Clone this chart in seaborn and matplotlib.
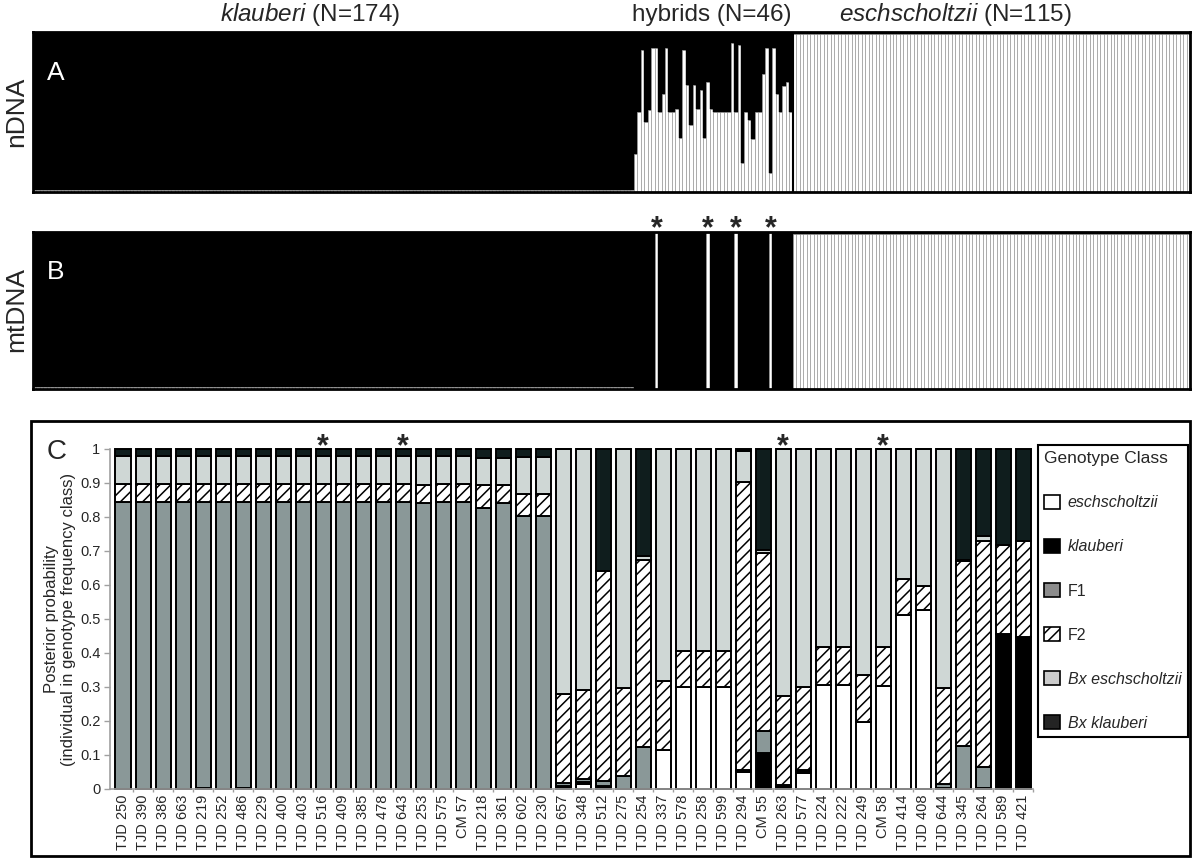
import numpy as np
import matplotlib
matplotlib.use("Agg")
import matplotlib.pyplot as plt
from matplotlib.patches import Patch, Rectangle
import seaborn as sns

# ---- panels A/B: admixture per individual (fraction eschscholtzii) ----
n_klauberi = 174
n_hybrids = 46
n_esch = 115

# pure groups look uniform in the picture
ndna_klauberi = [0.01] * n_klauberi
ndna_esch = [0.99] * n_esch
# hybrids, left to right
ndna_hybrids = [0.24, 0.50, 0.89, 0.44, 0.51, 0.90, 0.90, 0.50, 0.61, 0.90,
                0.50, 0.50, 0.52, 0.34, 0.89, 0.67, 0.42, 0.67, 0.52, 0.64,
                0.34, 0.69, 0.52, 0.50, 0.50, 0.50, 0.50, 0.50, 0.93, 0.50,
                0.92, 0.18, 0.50, 0.45, 0.33, 0.50, 0.50, 0.74, 0.90, 0.12,
                0.90, 0.61, 0.50, 0.66, 0.69, 0.50]

mt_klauberi = [0.01] * n_klauberi
mt_esch = [0.985] * n_esch
mt_hybrids = [0, 0, 0, 0, 0, 0, 1, 0, 0, 0,
              0, 0, 0, 0, 0, 0, 0, 0, 0, 0,
              0, 1, 0, 0, 0, 0, 0, 0, 0, 1,
              0, 0, 0, 0, 0, 0, 0, 0, 0, 1,
              0, 0, 0, 0, 0, 0]

# ---- panel C: NewHybrids posterior probabilities ----
individuals = ["TJD 250", "TJD 390", "TJD 386", "TJD 663", "TJD 219", "TJD 252",
               "TJD 486", "TJD 229", "TJD 400", "TJD 403", "TJD 516", "TJD 409",
               "TJD 385", "TJD 478", "TJD 643", "TJD 253", "TJD 575", "CM 57",
               "TJD 218", "TJD 361", "TJD 602", "TJD 230", "TJD 657", "TJD 348",
               "TJD 512", "TJD 275", "TJD 254", "TJD 337", "TJD 578", "TJD 258",
               "TJD 599", "TJD 294", "CM 55", "TJD 263", "TJD 577", "TJD 224",
               "TJD 222", "TJD 249", "CM 58", "TJD 414", "TJD 408", "TJD 644",
               "TJD 345", "TJD 264", "TJD 589", "TJD 421"]
p_esch = [0, 0, 0, 0, 0, 0, 0, 0, 0, 0, 0, 0, 0, 0, 0, 0, 0, 0, 0, 0, 0, 0,
          0, .015, 0, 0, 0, .116, .300, .300, .300, .050, 0, 0, .047, .305,
          .305, .196, .304, .513, .527, 0, 0, 0, 0, 0]
p_klauberi = [0, 0, 0, 0, .003, 0, .003, 0, 0, 0, 0, 0, 0, 0, 0, 0, 0, 0, 0, 0, 0, 0,
              .010, .005, .008, 0, 0, 0, 0, 0, 0, .005, .106, .008, .005, 0,
              0, 0, 0, 0, 0, .004, 0, .003, .457, .446]
p_f1 = [.845, .845, .845, .845, .842, .845, .840, .845, .845, .845, .845, .845,
        .845, .845, .845, .841, .845, .845, .826, .841, .802, .802,
        .008, .010, .017, .039, .125, 0, 0, 0, 0, 0, .066, .004, .005, 0,
        0, 0, 0, 0, 0, .011, .127, .061, 0, 0]
p_f2 = [.052, .052, .052, .052, .052, .052, .055, .052, .052, .052, .052, .052,
        .052, .052, .052, .054, .052, .052, .067, .054, .066, .066,
        .262, .260, .615, .258, .550, .203, .107, .107, .107, .848, .522, .263,
        .243, .112, .112, .138, .113, .105, .069, .282, .543, .664, .262, .282]
p_bx_esch = [.083, .083, .083, .083, .083, .083, .082, .083, .083, .083, .083, .083,
             .083, .083, .083, .085, .083, .083, .082, .080, .107, .107,
             .720, .710, 0, .703, .010, .681, .593, .593, .593, .092, .010, .725,
             .700, .583, .583, .666, .583, .382, .404, .703, .005, .015, 0, 0]
p_bx_klauberi = [.020, .020, .020, .020, .020, .020, .020, .020, .020, .020, .020, .020,
                 .020, .020, .020, .020, .020, .020, .025, .025, .025, .025,
                 0, 0, .360, 0, .315, 0, 0, 0, 0, .005, .296, 0,
                 0, 0, 0, 0, 0, 0, 0, 0, .325, .257, .281, .272]
starred = ["TJD 516", "TJD 643", "TJD 263", "CM 58"]

class_names = ["eschscholtzii", "klauberi", "F1", "F2", "Bx eschscholtzii", "Bx klauberi"]
bar_colors = ["white", "black", "#8a9898", "white", "#cfd7d5", "#0f1d1d"]
legend_colors = ["white", "black", "#8c8c8c", "white", "#cccccc", "#242424"]
hatches = ["", "", "", "///", "", ""]
italic_names = ["eschscholtzii", "klauberi", "Bx eschscholtzii", "Bx klauberi"]

sns.set_theme(style="white")
plt.rcParams["font.family"] = ["Liberation Sans", "DejaVu Sans"]
plt.rcParams["mathtext.fontset"] = "custom"
plt.rcParams["mathtext.rm"] = "Liberation Sans"
plt.rcParams["mathtext.it"] = "Liberation Sans:italic"
plt.rcParams["hatch.linewidth"] = 1.1
plt.rcParams["hatch.color"] = "black"

W, H = 1200, 858
fig = plt.figure(figsize=(12, 8.58), dpi=100)


def fx(px):
    return px / W


def fy(py):
    return 1 - py / H


axA = fig.add_axes([fx(33), fy(192), fx(1157), 160 / H])
axB = fig.add_axes([fx(33), fy(389), fx(1157), 157 / H])
axC = fig.add_axes([fx(110), fy(789), fx(923), 340 / H])


def structure(ax, q):
    q = np.asarray(q, dtype=float)
    idx = np.arange(len(q))
    sns.barplot(x=idx, y=q, color="white", width=1.0, edgecolor="#9a9a9a",
                linewidth=0.5, errorbar=None, saturation=1, orient="x", ax=ax)
    sns.barplot(x=idx, y=1 - q, bottom=q, color="black", width=1.0,
                edgecolor="black", linewidth=0.3, errorbar=None, saturation=1,
                orient="x", ax=ax)
    ax.set_xlim(-0.5, len(q) - 0.5)
    ax.set_ylim(0, 1)
    ax.set_xticks([])
    ax.set_yticks([])
    ax.set_xlabel("")
    ax.set_ylabel("")
    for s in ax.spines.values():
        s.set_color("black")
        s.set_linewidth(2)


ndna = ndna_klauberi + ndna_hybrids + ndna_esch
mt = mt_klauberi + mt_hybrids + mt_esch
structure(axA, ndna)
structure(axB, mt)
axA.axvline(n_klauberi + n_hybrids - 0.5, color="black", lw=1.5)

# group headers
fig.text(fx(310), fy(15), r"$\it{klauberi}$ (N=174)", fontsize=17.5, ha="center", va="center")
fig.text(fx(712), fy(15), "hybrids (N=46)", fontsize=17.5, ha="center", va="center")
fig.text(fx(955), fy(15), r"$\it{eschscholtzii}$ (N=115)", fontsize=17.5, ha="center", va="center")

fig.text(fx(16), fy(112), "nDNA", rotation=90, fontsize=19, ha="center", va="center")
fig.text(fx(16), fy(310), "mtDNA", rotation=90, fontsize=19, ha="center", va="center")
axA.text(0.012, 0.7, "A", color="white", fontsize=19, transform=axA.transAxes)
axB.text(0.012, 0.7, "B", color="white", fontsize=19, transform=axB.transAxes)

# asterisks on hybrids carrying eschscholtzii mtDNA
for i, v in enumerate(mt_hybrids):
    if v == 1:
        axB.annotate("*", (n_klauberi + i, 1.0), xycoords=axB.get_xaxis_transform(),
                     xytext=(0, -3.5), textcoords="offset points", fontsize=22,
                     fontweight="bold", ha="center", va="baseline", annotation_clip=False)

# ---- panel C stacked bars ----
layers = [p_esch, p_klauberi, p_f1, p_f2, p_bx_esch, p_bx_klauberi]
bottom = np.zeros(len(individuals))
for vals, col, hatch in zip(layers, bar_colors, hatches):
    sns.barplot(x=individuals, y=vals, bottom=bottom, color=col, hatch=hatch,
                width=0.75, edgecolor="black", linewidth=1.4, errorbar=None,
                saturation=1, orient="x", clip_on=False, ax=axC)
    bottom = bottom + np.asarray(vals)

axC.set_xlim(-0.65, len(individuals) - 0.5)
axC.set_ylim(0, 1)
yt = np.round(np.arange(0, 1.01, 0.1), 1)
axC.set_yticks(yt)
axC.set_yticklabels([f"{v:g}" for v in yt], fontsize=10.5)
axC.set_xticks(range(len(individuals)))
axC.set_xticklabels(individuals, rotation=90, fontsize=10.5)
axC.tick_params(axis="y", direction="out", length=4, width=1, color="#a0a0a0", pad=3, left=True)
axC.tick_params(axis="x", length=0, pad=4)
axC.set_xticks(np.arange(len(individuals)) + 0.5, minor=True)
axC.tick_params(axis="x", which="minor", direction="out", length=2, width=1, color="#a0a0a0", bottom=True)
axC.set_xlabel("")
axC.set_ylabel("Posterior probability\n(individual in genotype frequency class)",
               fontsize=12, linespacing=1.15)
axC.yaxis.set_label_coords(-0.037, 0.5)
for side in ["top", "right"]:
    axC.spines[side].set_visible(False)
for side in ["left", "bottom"]:
    axC.spines[side].set_color("#a0a0a0")
    axC.spines[side].set_linewidth(1.2)

for name in starred:
    axC.annotate("*", (individuals.index(name), 1.0), xytext=(0, -4.5),
                 textcoords="offset points", fontsize=22, fontweight="bold",
                 ha="center", va="baseline", annotation_clip=False)

fig.text(fx(57), fy(452), "C", fontsize=20, ha="center", va="center")
fig.add_artist(Rectangle((fx(31), fy(856)), fx(1159), 435 / H, transform=fig.transFigure,
                         fill=False, edgecolor="black", linewidth=2))

handles = [Patch(facecolor=c, edgecolor="black", hatch=h, linewidth=1.2)
           for c, h in zip(legend_colors, hatches)]
leg = fig.legend(handles, class_names, loc="upper left", bbox_to_anchor=(fx(1038), fy(445)),
                 title="Genotype Class", fontsize=11.5, title_fontsize=12.5, frameon=True,
                 fancybox=False, edgecolor="black", framealpha=1, handlelength=1.0,
                 handleheight=1.0, handletextpad=0.45, labelspacing=1.78, borderpad=0.4,
                 alignment="left", borderaxespad=0)
leg.get_frame().set_linewidth(1.5)
for t in leg.get_texts():
    if t.get_text() in italic_names:
        t.set_style("italic")

fig.savefig("out.png", dpi=100)
